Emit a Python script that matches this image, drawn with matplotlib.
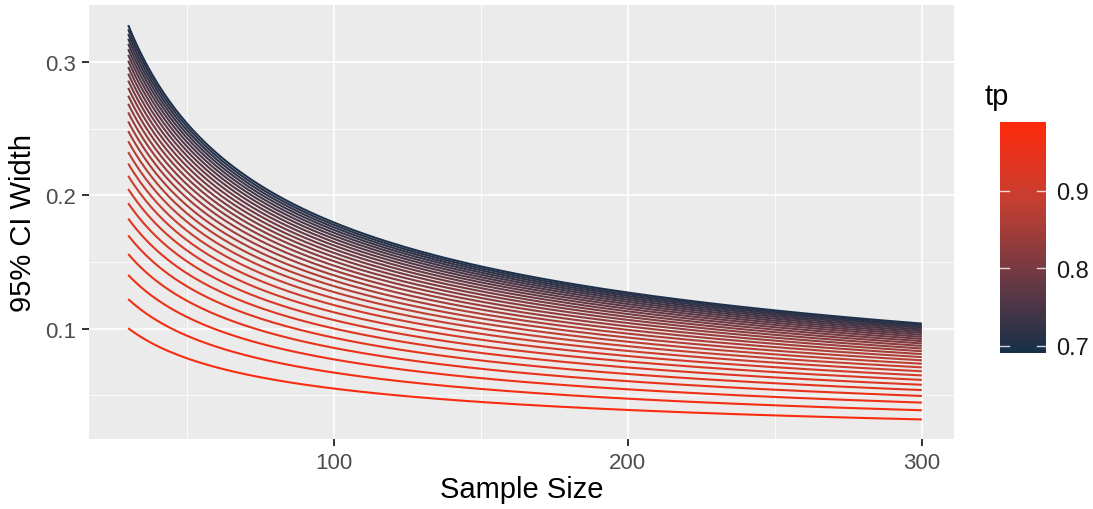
import numpy as np
import matplotlib
matplotlib.use("Agg")
import matplotlib.pyplot as plt
from matplotlib.colors import LinearSegmentedColormap, Normalize
from matplotlib.ticker import MultipleLocator

plt.rcParams['font.family'] = ['Liberation Sans', 'DejaVu Sans']

# true positive rates, one line each (0.70 .. 0.98)
tp = [0.70, 0.71, 0.72, 0.73, 0.74, 0.75, 0.76, 0.77, 0.78, 0.79,
      0.80, 0.81, 0.82, 0.83, 0.84, 0.85, 0.86, 0.87, 0.88, 0.89,
      0.90, 0.91, 0.92, 0.93, 0.94, 0.95, 0.96, 0.97, 0.98]
# sample sizes on the x axis
sample_size = np.arange(30, 301)
z = 1.96

# colour scale: dark navy -> red
cmap = LinearSegmentedColormap.from_list(
    "tp", [(0.0, "#17304a"), (0.33, "#6e3a44"), (0.66, "#c63f31"), (1.0, "#ff2a0c")])
norm = Normalize(vmin=0.691, vmax=0.989)

fig = plt.figure(figsize=(10.93, 5.10), dpi=100)
ax = fig.add_axes([0.081, 0.137, 0.792, 0.851])
ax.set_facecolor("#EBEBEB")

for p in tp:
    width = 2 * z * np.sqrt(p * (1 - p) / sample_size)
    ax.plot(sample_size, width, color=cmap(norm(p)), lw=1.5, solid_capstyle="butt")

ax.set_xlim(16.5, 311)
ax.set_ylim(0.0169, 0.343)
ax.xaxis.set_minor_locator(MultipleLocator(50))
ax.yaxis.set_minor_locator(MultipleLocator(0.05))
ax.set_xticks([100, 200, 300])
ax.set_xticklabels(["100", "200", "300"])
ax.set_yticks([0.1, 0.2, 0.3])
ax.set_yticklabels(["0.1", "0.2", "0.3"])
ax.grid(which="major", color="white", lw=1.2)
ax.grid(which="minor", color="white", lw=0.6)
ax.set_axisbelow(True)
for s in ax.spines.values():
    s.set_visible(False)
ax.tick_params(which="major", length=5, width=1.4, color="#333333",
               labelcolor="#4D4D4D", labelsize=16, pad=4)
ax.tick_params(which="minor", length=0)
ax.set_xlabel("Sample Size", fontsize=21, color="black", labelpad=2)
ax.set_ylabel("95% CI Width", fontsize=21, color="black", labelpad=6)

# colour bar
cax = fig.add_axes([0.915, 0.306, 0.042, 0.453])
grad = np.linspace(0.691, 0.989, 300).reshape(-1, 1)
cax.imshow(grad, aspect="auto", cmap=cmap, norm=norm, origin="lower",
           extent=[0, 1, 0.691, 0.989])
cax.set_xlim(0, 1)
cax.set_ylim(0.691, 0.989)
cax.set_xticks([])
cax.yaxis.tick_right()
cax.set_yticks([0.7, 0.8, 0.9])
cax.set_yticklabels(["0.7", "0.8", "0.9"])
cax.tick_params(axis="y", length=0, labelsize=17, labelcolor="#1a1a1a", pad=7)
for v in [0.7, 0.8, 0.9]:
    cax.plot([0, 0.2], [v, v], color="white", lw=1, alpha=0.8)
    cax.plot([0.8, 1], [v, v], color="white", lw=1, alpha=0.8)
for s in cax.spines.values():
    s.set_visible(False)
fig.text(0.901, 0.81, "tp", fontsize=21, ha="left", va="center")

fig.savefig("out.png", dpi=100)
